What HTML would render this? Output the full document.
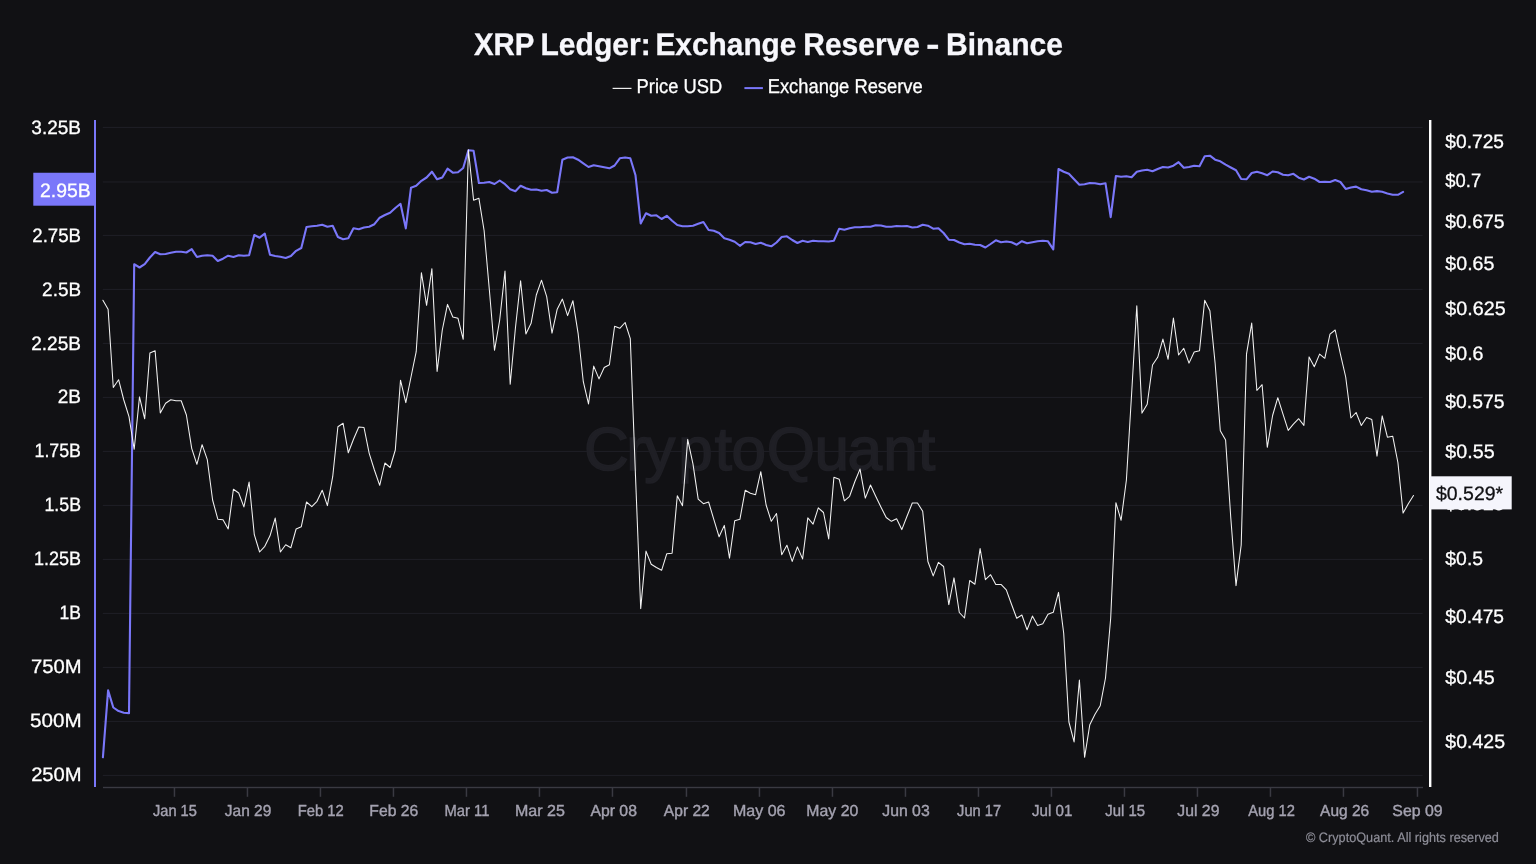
<!DOCTYPE html>
<html lang="en"><head><meta charset="utf-8"><title>XRP Ledger: Exchange Reserve - Binance</title>
<style>html,body{margin:0;padding:0;background:#111114;overflow:hidden}svg{display:block;will-change:transform;transform:translateZ(0)}text{font-family:"Liberation Sans",Arial,Helvetica,sans-serif}</style></head><body>
<svg width="1536" height="864" viewBox="0 0 1536 864">
<rect width="1536" height="864" fill="#111114"/>
<rect x="102.8" y="126.90" width="1319.8" height="1" fill="#202026"/>
<rect x="102.8" y="181.45" width="1319.8" height="1" fill="#202026"/>
<rect x="102.8" y="234.90" width="1319.8" height="1" fill="#202026"/>
<rect x="102.8" y="288.90" width="1319.8" height="1" fill="#202026"/>
<rect x="102.8" y="342.90" width="1319.8" height="1" fill="#202026"/>
<rect x="102.8" y="396.90" width="1319.8" height="1" fill="#202026"/>
<rect x="102.8" y="450.90" width="1319.8" height="1" fill="#202026"/>
<rect x="102.8" y="504.90" width="1319.8" height="1" fill="#202026"/>
<rect x="102.8" y="558.90" width="1319.8" height="1" fill="#202026"/>
<rect x="102.8" y="612.90" width="1319.8" height="1" fill="#202026"/>
<rect x="102.8" y="666.90" width="1319.8" height="1" fill="#202026"/>
<rect x="102.8" y="720.90" width="1319.8" height="1" fill="#202026"/>
<rect x="102.8" y="774.90" width="1319.8" height="1" fill="#202026"/>
<text x="584.1 626.3 644.2 678.2 714.7 731.4 766.7 814.5 847.6 883.2 918.1" y="469.8" font-size="62" fill="#1f1f25" stroke="#1f1f25" stroke-width="1.6">CryptoQuant</text>
<rect x="103" y="786.8" width="1320" height="1.4" fill="#3a3a42"/>
<rect x="173.7" y="787" width="1.5" height="9.8" fill="#3a3a42"/>
<text transform="translate(153.02,816) skewX(0.05)" font-size="16.0" fill="#a4a2b0" textLength="43.84" lengthAdjust="spacingAndGlyphs" stroke="#a4a2b0" stroke-width="0.4">Jan 15</text>
<rect x="246.7" y="787" width="1.5" height="9.8" fill="#3a3a42"/>
<text transform="translate(224.86,816) skewX(0.05)" font-size="16.0" fill="#a4a2b0" textLength="46.48" lengthAdjust="spacingAndGlyphs" stroke="#a4a2b0" stroke-width="0.4">Jan 29</text>
<rect x="319.7" y="787" width="1.5" height="9.8" fill="#3a3a42"/>
<text transform="translate(297.68,816) skewX(0.05)" font-size="16.0" fill="#a4a2b0" textLength="46.06" lengthAdjust="spacingAndGlyphs" stroke="#a4a2b0" stroke-width="0.4">Feb 12</text>
<rect x="392.7" y="787" width="1.5" height="9.8" fill="#3a3a42"/>
<text transform="translate(369.31,816) skewX(0.05)" font-size="16.0" fill="#a4a2b0" textLength="48.88" lengthAdjust="spacingAndGlyphs" stroke="#a4a2b0" stroke-width="0.4">Feb 26</text>
<rect x="465.7" y="787" width="1.5" height="9.8" fill="#3a3a42"/>
<text transform="translate(444.46,816) skewX(0.05)" font-size="16.0" fill="#a4a2b0" textLength="44.89" lengthAdjust="spacingAndGlyphs" stroke="#a4a2b0" stroke-width="0.4">Mar 11</text>
<rect x="538.7" y="787" width="1.5" height="9.8" fill="#3a3a42"/>
<text transform="translate(514.98,816) skewX(0.05)" font-size="16.0" fill="#a4a2b0" textLength="49.89" lengthAdjust="spacingAndGlyphs" stroke="#a4a2b0" stroke-width="0.4">Mar 25</text>
<rect x="611.7" y="787" width="1.5" height="9.8" fill="#3a3a42"/>
<text transform="translate(590.41,816) skewX(0.05)" font-size="16.0" fill="#a4a2b0" textLength="46.52" lengthAdjust="spacingAndGlyphs" stroke="#a4a2b0" stroke-width="0.4">Apr 08</text>
<rect x="685.7" y="787" width="1.5" height="9.8" fill="#3a3a42"/>
<text transform="translate(663.86,816) skewX(0.05)" font-size="16.0" fill="#a4a2b0" textLength="45.91" lengthAdjust="spacingAndGlyphs" stroke="#a4a2b0" stroke-width="0.4">Apr 22</text>
<rect x="758.7" y="787" width="1.5" height="9.8" fill="#3a3a42"/>
<text transform="translate(732.97,816) skewX(0.05)" font-size="16.0" fill="#a4a2b0" textLength="52.52" lengthAdjust="spacingAndGlyphs" stroke="#a4a2b0" stroke-width="0.4">May 06</text>
<rect x="831.7" y="787" width="1.5" height="9.8" fill="#3a3a42"/>
<text transform="translate(806.33,816) skewX(0.05)" font-size="16.0" fill="#a4a2b0" textLength="51.92" lengthAdjust="spacingAndGlyphs" stroke="#a4a2b0" stroke-width="0.4">May 20</text>
<rect x="904.7" y="787" width="1.5" height="9.8" fill="#3a3a42"/>
<text transform="translate(882.23,816) skewX(0.05)" font-size="16.0" fill="#a4a2b0" textLength="47.44" lengthAdjust="spacingAndGlyphs" stroke="#a4a2b0" stroke-width="0.4">Jun 03</text>
<rect x="977.7" y="787" width="1.5" height="9.8" fill="#3a3a42"/>
<text transform="translate(957.10,816) skewX(0.05)" font-size="16.0" fill="#a4a2b0" textLength="43.97" lengthAdjust="spacingAndGlyphs" stroke="#a4a2b0" stroke-width="0.4">Jun 17</text>
<rect x="1050.7" y="787" width="1.5" height="9.8" fill="#3a3a42"/>
<text transform="translate(1031.99,816) skewX(0.05)" font-size="16.0" fill="#a4a2b0" textLength="40.38" lengthAdjust="spacingAndGlyphs" stroke="#a4a2b0" stroke-width="0.4">Jul 01</text>
<rect x="1123.7" y="787" width="1.5" height="9.8" fill="#3a3a42"/>
<text transform="translate(1105.29,816) skewX(0.05)" font-size="16.0" fill="#a4a2b0" textLength="39.86" lengthAdjust="spacingAndGlyphs" stroke="#a4a2b0" stroke-width="0.4">Jul 15</text>
<rect x="1196.7" y="787" width="1.5" height="9.8" fill="#3a3a42"/>
<text transform="translate(1177.33,816) skewX(0.05)" font-size="16.0" fill="#a4a2b0" textLength="42.09" lengthAdjust="spacingAndGlyphs" stroke="#a4a2b0" stroke-width="0.4">Jul 29</text>
<rect x="1269.7" y="787" width="1.5" height="9.8" fill="#3a3a42"/>
<text transform="translate(1248.29,816) skewX(0.05)" font-size="16.0" fill="#a4a2b0" textLength="46.57" lengthAdjust="spacingAndGlyphs" stroke="#a4a2b0" stroke-width="0.4">Aug 12</text>
<rect x="1342.7" y="787" width="1.5" height="9.8" fill="#3a3a42"/>
<text transform="translate(1320.09,816) skewX(0.05)" font-size="16.0" fill="#a4a2b0" textLength="49.11" lengthAdjust="spacingAndGlyphs" stroke="#a4a2b0" stroke-width="0.4">Aug 26</text>
<rect x="1416.7" y="787" width="1.5" height="9.8" fill="#3a3a42"/>
<text transform="translate(1392.30,816) skewX(0.05)" font-size="16.0" fill="#a4a2b0" textLength="50.27" lengthAdjust="spacingAndGlyphs" stroke="#a4a2b0" stroke-width="0.4">Sep 09</text>
<text transform="translate(31.33,134) skewX(0.05)" font-size="19.4" fill="#ffffff" textLength="49.73" lengthAdjust="spacingAndGlyphs" stroke="#ffffff" stroke-width="0.3">3.25B</text>
<text transform="translate(32.31,242) skewX(0.05)" font-size="19.4" fill="#ffffff" textLength="48.72" lengthAdjust="spacingAndGlyphs" stroke="#ffffff" stroke-width="0.3">2.75B</text>
<text transform="translate(42.10,296) skewX(0.05)" font-size="19.4" fill="#ffffff" textLength="38.95" lengthAdjust="spacingAndGlyphs" stroke="#ffffff" stroke-width="0.3">2.5B</text>
<text transform="translate(31.19,350) skewX(0.05)" font-size="19.4" fill="#ffffff" textLength="49.87" lengthAdjust="spacingAndGlyphs" stroke="#ffffff" stroke-width="0.3">2.25B</text>
<text transform="translate(57.79,403) skewX(0.05)" font-size="19.4" fill="#ffffff" textLength="23.26" lengthAdjust="spacingAndGlyphs" stroke="#ffffff" stroke-width="0.3">2B</text>
<text transform="translate(34.49,457) skewX(0.05)" font-size="19.4" fill="#ffffff" textLength="46.49" lengthAdjust="spacingAndGlyphs" stroke="#ffffff" stroke-width="0.3">1.75B</text>
<text transform="translate(44.40,511) skewX(0.05)" font-size="19.4" fill="#ffffff" textLength="36.59" lengthAdjust="spacingAndGlyphs" stroke="#ffffff" stroke-width="0.3">1.5B</text>
<text transform="translate(33.88,565) skewX(0.05)" font-size="19.4" fill="#ffffff" textLength="47.12" lengthAdjust="spacingAndGlyphs" stroke="#ffffff" stroke-width="0.3">1.25B</text>
<text transform="translate(59.51,619) skewX(0.05)" font-size="19.4" fill="#ffffff" textLength="21.46" lengthAdjust="spacingAndGlyphs" stroke="#ffffff" stroke-width="0.3">1B</text>
<text transform="translate(31.11,673) skewX(0.05)" font-size="19.4" fill="#ffffff" textLength="50.60" lengthAdjust="spacingAndGlyphs" stroke="#ffffff" stroke-width="0.3">750M</text>
<text transform="translate(30.12,727) skewX(0.05)" font-size="19.4" fill="#ffffff" textLength="51.62" lengthAdjust="spacingAndGlyphs" stroke="#ffffff" stroke-width="0.3">500M</text>
<text transform="translate(31.13,781) skewX(0.05)" font-size="19.4" fill="#ffffff" textLength="50.58" lengthAdjust="spacingAndGlyphs" stroke="#ffffff" stroke-width="0.3">250M</text>
<text transform="translate(1445.34,148) skewX(0.05)" font-size="19.4" fill="#ffffff" textLength="58.71" lengthAdjust="spacingAndGlyphs" stroke="#ffffff" stroke-width="0.3">$0.725</text>
<text transform="translate(1445.35,187) skewX(0.05)" font-size="19.4" fill="#ffffff" textLength="35.82" lengthAdjust="spacingAndGlyphs" stroke="#ffffff" stroke-width="0.3">$0.7</text>
<text transform="translate(1445.34,228) skewX(0.05)" font-size="19.4" fill="#ffffff" textLength="59.12" lengthAdjust="spacingAndGlyphs" stroke="#ffffff" stroke-width="0.3">$0.675</text>
<text transform="translate(1445.34,270) skewX(0.05)" font-size="19.4" fill="#ffffff" textLength="49.03" lengthAdjust="spacingAndGlyphs" stroke="#ffffff" stroke-width="0.3">$0.65</text>
<text transform="translate(1445.34,315) skewX(0.05)" font-size="19.4" fill="#ffffff" textLength="60.34" lengthAdjust="spacingAndGlyphs" stroke="#ffffff" stroke-width="0.3">$0.625</text>
<text transform="translate(1445.34,360) skewX(0.05)" font-size="19.4" fill="#ffffff" textLength="38.17" lengthAdjust="spacingAndGlyphs" stroke="#ffffff" stroke-width="0.3">$0.6</text>
<text transform="translate(1445.34,408) skewX(0.05)" font-size="19.4" fill="#ffffff" textLength="59.12" lengthAdjust="spacingAndGlyphs" stroke="#ffffff" stroke-width="0.3">$0.575</text>
<text transform="translate(1445.34,458) skewX(0.05)" font-size="19.4" fill="#ffffff" textLength="49.24" lengthAdjust="spacingAndGlyphs" stroke="#ffffff" stroke-width="0.3">$0.55</text>
<text transform="translate(1445.34,510) skewX(0.05)" font-size="19.4" fill="#ffffff" textLength="59.22" lengthAdjust="spacingAndGlyphs" stroke="#ffffff" stroke-width="0.3">$0.525</text>
<text transform="translate(1445.34,565) skewX(0.05)" font-size="19.4" fill="#ffffff" textLength="37.72" lengthAdjust="spacingAndGlyphs" stroke="#ffffff" stroke-width="0.3">$0.5</text>
<text transform="translate(1445.34,623) skewX(0.05)" font-size="19.4" fill="#ffffff" textLength="58.71" lengthAdjust="spacingAndGlyphs" stroke="#ffffff" stroke-width="0.3">$0.475</text>
<text transform="translate(1445.34,684) skewX(0.05)" font-size="19.4" fill="#ffffff" textLength="49.24" lengthAdjust="spacingAndGlyphs" stroke="#ffffff" stroke-width="0.3">$0.45</text>
<text transform="translate(1445.34,748) skewX(0.05)" font-size="19.4" fill="#ffffff" textLength="59.73" lengthAdjust="spacingAndGlyphs" stroke="#ffffff" stroke-width="0.3">$0.425</text>
<polyline fill="none" stroke="#7a77fa" stroke-width="2.1" stroke-linejoin="round" stroke-linecap="round" points="102.9,757.3 108.1,690.4 113.3,707.5 118.6,711.1 123.8,712.7 129.0,713.1 134.2,264.2 139.5,267.5 144.7,264.2 149.9,257.5 155.1,252.0 160.3,254.3 165.6,254.0 170.8,252.8 176.0,251.7 181.2,251.7 186.4,252.5 191.7,249.2 196.9,257.0 202.1,255.7 207.3,255.3 212.6,255.8 217.8,261.0 223.0,258.7 228.2,255.7 233.4,257.0 238.7,255.3 243.9,255.8 249.1,255.3 254.3,235.0 259.6,237.7 264.8,233.7 270.0,254.7 275.2,256.0 280.4,256.7 285.7,258.0 290.9,256.0 296.1,250.8 301.3,248.0 306.5,227.0 311.8,226.3 317.0,225.7 322.2,224.7 327.4,226.7 332.7,225.8 337.9,237.0 343.1,239.3 348.3,238.3 353.5,228.3 358.8,229.2 364.0,227.5 369.2,226.7 374.4,224.2 379.7,217.7 384.9,215.0 390.1,212.7 395.3,208.0 400.5,203.8 405.8,228.4 411.0,187.7 416.2,185.8 421.4,180.8 426.6,177.5 431.9,171.7 437.1,179.3 442.3,177.5 447.5,168.7 452.8,172.7 458.0,172.3 463.2,168.0 468.4,150.3 473.6,150.8 478.9,183.0 484.1,182.7 489.3,182.0 494.5,184.0 499.7,180.5 505.0,184.2 510.2,189.2 515.4,191.3 520.6,185.8 525.9,188.3 531.1,189.7 536.3,189.5 541.5,190.8 546.7,190.0 552.0,192.7 557.2,192.2 562.4,159.7 567.6,157.5 572.9,157.2 578.1,159.7 583.3,163.3 588.5,167.0 593.7,165.3 599.0,166.3 604.2,167.3 609.4,168.3 614.6,165.5 619.8,158.3 625.1,157.5 630.3,158.3 635.5,175.3 640.7,223.4 646.0,213.3 651.2,215.8 656.4,215.3 661.6,219.0 666.8,215.8 672.1,220.7 677.3,225.0 682.5,226.3 687.7,226.2 693.0,225.7 698.2,223.8 703.4,222.0 708.6,230.0 713.8,230.7 719.1,233.0 724.3,238.3 729.5,239.7 734.7,241.7 739.9,245.8 745.2,242.0 750.4,242.3 755.6,244.0 760.8,242.7 766.1,245.0 771.3,246.3 776.5,242.5 781.7,237.0 786.9,236.3 792.2,240.0 797.4,243.0 802.6,240.8 807.8,242.0 813.1,240.8 818.3,241.3 823.5,241.2 828.7,241.5 833.9,240.7 839.2,228.7 844.4,229.7 849.6,228.3 854.8,227.3 860.0,227.3 865.3,226.8 870.5,226.7 875.7,225.3 880.9,225.5 886.2,226.8 891.4,226.7 896.6,226.0 901.8,226.3 907.0,226.0 912.3,227.5 917.5,227.0 922.7,224.7 927.9,225.7 933.2,228.7 938.4,228.3 943.6,233.0 948.8,239.7 954.0,240.0 959.3,242.5 964.5,244.3 969.7,243.7 974.9,244.7 980.1,245.0 985.4,247.5 990.6,244.0 995.8,240.3 1001.0,242.3 1006.3,241.5 1011.5,242.3 1016.7,244.7 1021.9,241.2 1027.1,243.3 1032.4,242.2 1037.6,241.2 1042.8,240.7 1048.0,241.3 1053.3,249.3 1058.5,169.0 1063.7,171.7 1068.9,173.7 1074.1,179.2 1079.4,184.7 1084.6,184.3 1089.8,183.0 1095.0,183.3 1100.2,184.3 1105.5,183.3 1110.7,217.1 1115.9,176.0 1121.1,176.8 1126.4,176.2 1131.6,177.3 1136.8,171.7 1142.0,170.5 1147.2,169.8 1152.5,171.3 1157.7,169.0 1162.9,167.0 1168.1,167.5 1173.4,165.7 1178.6,162.2 1183.8,167.7 1189.0,167.0 1194.2,165.8 1199.5,166.2 1204.7,156.3 1209.9,155.7 1215.1,159.7 1220.3,161.3 1225.6,164.7 1230.8,167.5 1236.0,170.2 1241.2,179.0 1246.5,179.3 1251.7,173.0 1256.9,171.8 1262.1,173.3 1267.3,175.2 1272.6,171.5 1277.8,172.3 1283.0,174.7 1288.2,175.3 1293.4,173.8 1298.7,177.7 1303.9,179.5 1309.1,176.8 1314.3,178.7 1319.6,182.0 1324.8,181.7 1330.0,182.0 1335.2,180.0 1340.4,182.0 1345.7,188.9 1350.9,187.5 1356.1,186.6 1361.3,189.2 1366.6,190.3 1371.8,191.8 1377.0,191.1 1382.2,191.8 1387.4,193.4 1392.7,194.7 1397.9,194.8 1403.1,191.9"/>
<polyline fill="none" stroke="#f2f2f2" stroke-width="1.05" stroke-linejoin="round" stroke-linecap="round" points="102.9,300.3 108.1,309.2 113.3,387.5 118.6,379.7 123.8,400.0 129.0,416.7 134.2,449.3 139.5,396.9 144.7,418.8 149.9,353.0 155.1,350.8 160.3,412.9 165.6,403.3 170.8,399.7 176.0,400.7 181.2,400.8 186.4,415.0 191.7,448.3 196.9,464.3 202.1,444.7 207.3,459.7 212.6,500.0 217.8,519.2 223.0,519.7 228.2,528.9 233.4,489.2 238.7,493.0 243.9,506.9 249.1,482.1 254.3,534.7 259.6,552.0 264.8,546.3 270.0,535.8 275.2,518.1 280.4,552.0 285.7,544.7 290.9,547.7 296.1,529.0 301.3,526.7 306.5,502.0 311.8,506.7 317.0,501.3 322.2,490.2 327.4,505.6 332.7,476.7 337.9,426.7 343.1,423.3 348.3,452.8 353.5,439.2 358.8,427.0 364.0,427.5 369.2,453.3 374.4,470.0 379.7,485.3 384.9,463.0 390.1,467.5 395.3,450.0 400.5,380.2 405.8,402.6 411.0,377.0 416.2,351.7 421.4,272.7 426.6,305.3 431.9,268.7 437.1,371.4 442.3,330.0 447.5,304.4 452.8,317.0 458.0,318.3 463.2,339.3 468.4,149.7 473.6,200.3 478.9,198.3 484.1,230.5 489.3,289.2 494.5,350.3 499.7,320.0 505.0,271.1 510.2,384.3 515.4,328.3 520.6,280.7 525.9,333.9 531.1,323.3 536.3,295.0 541.5,280.2 546.7,296.7 552.0,333.1 557.2,309.2 562.4,299.1 567.6,315.6 572.9,300.7 578.1,333.3 583.3,381.7 588.5,403.9 593.7,366.1 599.0,378.9 604.2,367.5 609.4,364.7 614.6,326.3 619.8,328.3 625.1,322.5 630.3,338.7 635.5,476.0 640.7,608.6 646.0,551.1 651.2,564.2 656.4,567.5 661.6,570.3 666.8,553.7 672.1,553.3 677.3,495.7 682.5,505.8 687.7,439.4 693.0,464.2 698.2,499.2 703.4,503.7 708.6,502.0 713.8,519.3 719.1,536.8 724.3,525.4 729.5,558.1 734.7,520.7 739.9,519.3 745.2,490.3 750.4,493.3 755.6,494.7 760.8,471.7 766.1,505.0 771.3,521.3 776.5,513.5 781.7,554.8 786.9,545.2 792.2,561.4 797.4,546.9 802.6,558.9 807.8,517.9 813.1,524.2 818.3,507.8 823.5,512.5 828.7,538.9 833.9,477.2 839.2,479.2 844.4,500.8 849.6,496.3 854.8,481.7 860.0,469.1 865.3,498.1 870.5,485.0 875.7,496.3 880.9,507.0 886.2,517.5 891.4,521.3 896.6,518.7 901.8,529.6 907.0,516.3 912.3,503.0 917.5,503.0 922.7,511.3 927.9,561.5 933.2,575.9 938.4,562.4 943.6,566.5 948.8,604.6 954.0,577.9 959.3,612.5 964.5,618.0 969.7,580.5 974.9,584.2 980.1,548.6 985.4,579.7 990.6,574.7 995.8,584.5 1001.0,584.4 1006.3,589.9 1011.5,604.2 1016.7,618.3 1021.9,615.0 1027.1,629.8 1032.4,616.1 1037.6,625.5 1042.8,623.8 1048.0,614.3 1053.3,612.3 1058.5,592.4 1063.7,633.3 1068.9,722.0 1074.1,741.9 1079.4,680.0 1084.6,757.3 1089.8,724.7 1095.0,714.2 1100.2,705.8 1105.5,678.0 1110.7,618.0 1115.9,502.7 1121.1,520.3 1126.4,480.0 1131.6,394.0 1136.8,305.7 1142.0,413.1 1147.2,404.2 1152.5,365.0 1157.7,357.3 1162.9,339.1 1168.1,359.3 1173.4,318.1 1178.6,355.0 1183.8,348.3 1189.0,363.1 1194.2,352.0 1199.5,350.8 1204.7,300.2 1209.9,310.8 1215.1,363.0 1220.3,430.8 1225.6,440.0 1230.8,518.0 1236.0,585.6 1241.2,545.0 1246.5,354.2 1251.7,323.1 1256.9,390.5 1262.1,384.7 1267.3,447.3 1272.6,415.5 1277.8,397.7 1283.0,414.2 1288.2,430.4 1293.4,424.2 1298.7,418.7 1303.9,425.4 1309.1,356.9 1314.3,366.7 1319.6,354.1 1324.8,358.3 1330.0,334.2 1335.2,330.0 1340.4,354.1 1345.7,377.0 1350.9,418.0 1356.1,412.5 1361.3,425.5 1366.6,417.5 1371.8,419.5 1377.0,456.1 1382.2,415.9 1387.4,437.2 1392.7,436.2 1397.9,462.5 1403.1,513.1 1408.3,503.8 1413.5,495.5"/>
<rect x="94" y="120" width="2" height="667" fill="#7a77fa"/>
<rect x="1429" y="120" width="2.4" height="667" fill="#ffffff"/>
<rect x="33.3" y="172.75" width="62.7" height="32.95" fill="#7a77fa"/>
<text transform="translate(39.97,197) skewX(0.05)" font-size="19.4" fill="#ffffff" textLength="50.70" lengthAdjust="spacingAndGlyphs" stroke="#ffffff" stroke-width="0.3">2.95B</text>
<rect x="1430" y="476.3" width="81.7" height="33.1" fill="#f5f5fc"/>
<text transform="translate(1435.94,500) skewX(0.05)" font-size="19.4" fill="#111114" textLength="67.21" lengthAdjust="spacingAndGlyphs" stroke="#111114" stroke-width="0.3">$0.529*</text>
<text transform="translate(0,55) skewX(0.05)" font-size="31.4" font-weight="bold" fill="#f7f7fc" stroke="#f7f7fc" stroke-width="0.3"><tspan x="473.89" textLength="60.57" lengthAdjust="spacingAndGlyphs">XRP</tspan> <tspan x="540.44" textLength="110.31" lengthAdjust="spacingAndGlyphs">Ledger:</tspan> <tspan x="655.45" textLength="141.02" lengthAdjust="spacingAndGlyphs">Exchange</tspan> <tspan x="803.24" textLength="116.83" lengthAdjust="spacingAndGlyphs">Reserve</tspan> <tspan x="926.30" textLength="13.25" lengthAdjust="spacingAndGlyphs">-</tspan> <tspan x="946.04" textLength="116.94" lengthAdjust="spacingAndGlyphs">Binance</tspan></text>
<rect x="612.6" y="87.8" width="18.9" height="1.2" fill="#ededed"/>
<text transform="translate(636.54,93) skewX(0.05)" font-size="20.0" fill="#ffffff" textLength="85.68" lengthAdjust="spacingAndGlyphs" stroke="#ffffff" stroke-width="0.3">Price USD</text>
<rect x="744.4" y="87.1" width="18.5" height="2" fill="#7a77fa"/>
<text transform="translate(767.64,93) skewX(0.05)" font-size="20.0" fill="#ffffff" textLength="155.12" lengthAdjust="spacingAndGlyphs" stroke="#ffffff" stroke-width="0.3">Exchange Reserve</text>
<text transform="translate(1305.91,842) skewX(0.05)" font-size="13.7" fill="#8e8e98" textLength="193.01" lengthAdjust="spacingAndGlyphs" stroke="#8e8e98" stroke-width="0.2">© CryptoQuant. All rights reserved</text>
</svg></body></html>
